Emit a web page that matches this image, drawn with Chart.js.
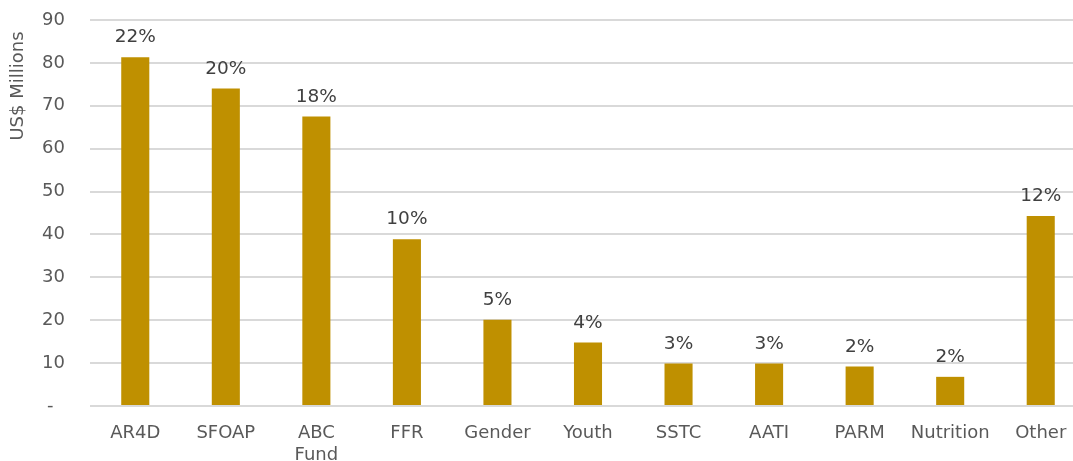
<!DOCTYPE html>
<html>
<head>
<meta charset="utf-8">
<script src="https://cdn.jsdelivr.net/npm/chart.js@4.4.1/dist/chart.umd.min.js"></script>
<style>
  html, body { margin: 0; padding: 0; background: #fff; overflow: hidden; }
  #wrap { position: relative; width: 1090px; height: 461px; }
</style>
</head>
<body>
<div id="wrap"><canvas id="fundChart"></canvas></div>
<script>
const categories = ['AR4D', 'SFOAP', ['ABC', 'Fund'], 'FFR', 'Gender', 'Youth', 'SSTC', 'AATI', 'PARM', 'Nutrition', 'Other'];
const values = [81.3, 74.0, 67.5, 38.9, 20.1, 14.8, 9.9, 9.9, 9.2, 6.8, 44.3];
const shares = ['22%', '20%', '18%', '10%', '5%', '4%', '3%', '3%', '2%', '2%', '12%'];
const yTicks = [0, 10, 20, 30, 40, 50, 60, 70, 80, 90];

const FONT = '"DejaVu Sans", Verdana, sans-serif';

// percent labels over bars + the axis title up top-left
const barLabels = {
  id: 'barLabels',
  afterDatasetsDraw(chart) {
    const c = chart.ctx;
    c.save();
    c.font = '18.5px ' + FONT;
    c.fillStyle = '#404040';
    c.textAlign = 'center';
    c.textBaseline = 'alphabetic';
    chart.getDatasetMeta(0).data.forEach((bar, i) => {
      c.fillText(shares[i], bar.x, bar.y - 15);
    });
    c.translate(18, 86);
    c.rotate(-Math.PI / 2);
    c.font = '18px ' + FONT;
    c.fillStyle = '#595959';
    c.textBaseline = 'middle';
    c.fillText('US$ Millions', 0, 0);
    c.restore();
  }
};

new Chart(document.getElementById('fundChart'), {
  type: 'bar',
  data: {
    labels: categories,
    datasets: [{
      data: values,
      backgroundColor: '#bf9000',
      borderWidth: 0,
      barPercentage: 0.31,
      categoryPercentage: 1
    }]
  },
  options: {
    responsive: true,
    maintainAspectRatio: false,
    animation: false,
    layout: { padding: { top: 20, right: 4, left: 0, bottom: 0 } },
    plugins: { legend: { display: false }, tooltip: { enabled: false } },
    scales: {
      y: {
        min: 0,
        max: 90,
        afterBuildTicks: (s) => { s.ticks = yTicks.map(v => ({ value: v })); },
        afterFit: (s) => { s.width = 90; s.paddingTop = 0; s.paddingBottom = 0; },
        ticks: {
          padding: 25,
          color: '#595959',
          font: { family: FONT, size: 18 },
          callback: (v) => v === 0 ? '-  ' : v
        },
        grid: { color: '#d9d9d9', lineWidth: 2, drawTicks: false },
        border: { display: false }
      },
      x: {
        afterFit: (s) => { s.height = 55; s.paddingLeft = 0; s.paddingRight = 0; },
        ticks: {
          padding: 17,
          color: '#595959',
          maxRotation: 0,
          autoSkip: false,
          font: { family: FONT, size: 18 }
        },
        grid: { display: false, drawTicks: false },
        border: { display: false }
      }
    }
  },
  plugins: [barLabels]
});
</script>
</body>
</html>
